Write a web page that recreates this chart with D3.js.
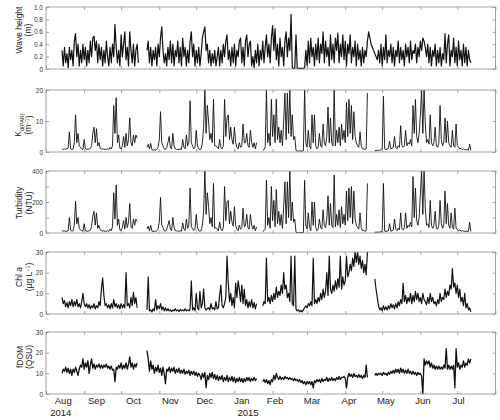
<!DOCTYPE html>
<html>
<head>
<meta charset="utf-8">
<script src="https://cdn.jsdelivr.net/npm/d3@7"></script>
<style>
  body { margin: 0; background: #fff; }
  svg { font-family: "Liberation Sans", Arial, Helvetica, sans-serif; }
</style>
</head>
<body>
<svg id="chart" width="500" height="420"></svg>
<script>
// daily values, first value is 14 Aug 2014, null = no data
const firstDay = "2014-08-14";

const waveHeight = [
  0.3,0.05,0.35,0.1,0.25,0.02,0.35,0.15,0.3,0.05,
  0.45,0.57,0.2,0.4,0.05,0.3,0.1,0.4,0.15,0.35,
  0.05,0.3,0.1,0.45,0.2,0.5,0.53,0.3,0.45,0.1,
  0.4,0.15,0.35,0.05,0.3,0.1,0.45,0.2,0.05,0.35,
  0.1,0.4,0.2,0.72,0.35,0.1,0.3,0.05,0.55,0.2,
  0.4,0.6,0.15,0.35,0.05,0.6,0.3,0.1,0.4,0.05,
  0.3,0.4,0.1,null,null,null,null,null,null,0.3,
  0.45,0.1,0.35,0.05,0.3,0.15,0.35,0.05,0.4,0.2,
  0.5,0.68,0.3,0.1,0.25,0.05,0.35,0.15,0.45,0.1,
  0.4,0.05,0.3,0.2,0.45,0.1,0.35,0.05,0.5,0.2,
  0.35,0.05,0.3,0.1,0.45,0.6,0.2,0.4,0.05,0.3,
  0.1,0.35,0.05,0.25,0.5,0.6,0.68,0.3,0.4,0.1,
  0.3,0.05,0.25,0.1,0.3,0.05,0.2,0.35,0.05,0.3,
  0.1,0.4,0.2,0.45,0.55,0.15,0.3,0.05,0.35,0.1,
  0.4,0.05,0.3,0.2,0.45,0.5,0.1,0.35,0.05,0.45,
  0.55,0.2,0.4,0.45,0.05,0.2,0.02,0.3,0.1,0.4,
  0.05,0.3,0.15,0.45,0.1,0.35,0.55,0.2,0.4,0.1,
  0.5,0.7,0.3,0.65,0.15,0.4,0.05,0.5,0.2,0.35,
  0.05,0.45,0.6,0.2,0.5,0.3,0.88,0.02,0.01,0.01,
  0.55,0.01,0.01,0.01,0.01,0.01,0.01,0.02,0.3,0.05,
  0.45,0.1,0.5,0.2,0.35,0.05,0.4,0.15,0.5,0.1,
  0.4,0.25,0.6,0.1,0.45,0.2,0.35,0.05,0.55,0.15,
  0.4,0.1,0.5,0.3,0.58,0.1,0.4,0.2,0.55,0.15,
  0.45,0.05,0.4,0.25,0.55,0.1,0.35,0.2,0.45,0.05,
  0.4,0.15,0.3,0.05,0.35,0.1,0.3,0.2,0.45,0.6,
  0.5,0.4,0.35,0.3,0.25,0.2,0.15,0.3,0.1,0.4,
  0.05,0.35,0.15,0.55,0.1,0.3,0.2,0.4,0.1,0.35,
  0.05,0.3,0.2,0.45,0.1,0.35,0.15,0.3,0.05,0.4,
  0.2,0.35,0.1,0.45,0.15,0.3,0.25,0.4,0.1,0.35,
  0.2,0.45,0.3,0.5,0.45,0.35,0.2,0.4,0.1,0.35,
  0.05,0.3,0.2,0.4,0.05,0.3,0.1,0.35,0.05,0.25,
  0.15,0.57,0.1,0.4,0.55,0.05,0.3,0.2,0.5,0.1,
  0.35,0.05,0.45,0.15,0.3,0.05,0.4,0.1,0.35,0.05,
  0.3,0.15,0.1
];

const kdPar = [
  1,0.8,1,0.9,1.1,1.2,6.5,1,0.8,1,
  3,12,3,6,2,1.5,1,0.8,4,1,
  0.9,0.8,1,1.2,2,6,8,3,7.5,2,
  3,1.2,1,0.9,1,0.8,0.9,1,0.8,1.5,
  1,2,15,6,17.5,3,5.5,1.2,1,2,
  5,1.5,6,2,4,11,3,2,5.5,3,
  5.5,4.5,null,null,null,null,null,null,null,1.5,
  2.5,1,2.8,0.8,0.6,0.7,0.6,0.8,1.5,4,
  13,3,2,1,0.8,1.5,3,5,1.5,1,
  6,2,1,0.8,0.9,0.7,1,0.8,4,1.5,
  1,5.5,2,3,16.5,3,2,1,1.5,7,
  2,1,0.8,1,3,8,20,6,15,10,
  4,6,3,17,2,2,1.5,1,4,1.5,
  1,2,17,5,11,12,4,8,4,2.5,
  8,3,1.5,1,3,1.5,2,9,3,3,
  6,2,1.5,7,3,1.5,3,1,3,null,
  null,null,null,0.6,0.8,1.5,20,3,6,2,
  17,5,12,3,17,4,8,3,7,2,
  10,19,4,19,6,20,5,12,4,5,
  0.5,0.3,0.3,0.4,0.3,0.3,0.4,20,3,1.5,
  7,2,1,12,3,12,2,1,1.5,6,
  2,1.5,9,3,2,5,14.5,3,11,3,
  2,20,2,7,3,8,2,9,4,7,
  3,16,5,17,6,15,4,13,5,3,
  2,1.5,6.5,2,1,1,0.8,1,19,null,
  null,null,null,null,0.5,0.4,0.5,0.6,0.5,0.8,
  1,18,1,0.8,1,1.2,3.5,1,1.2,1.5,
  5,1.5,1,2,1.5,8.5,2,1.5,2,7,
  2,3,2.5,4,2,15,6,17,5,3,
  6,12,20,6,20,9,3,4,2.5,12,
  3,2,3,8,2,1.5,3,15,4,2,
  3,11,3,10,3,2,1.5,7,2,1.5,
  9,2,1.5,1,1.2,0.8,1,0.8,0.7,0.8,
  0.6,2.5,0.6
];

const turbidity = [
  15,12,14,10,12,15,100,18,12,15,
  50,205,60,100,30,20,15,12,60,15,
  12,10,15,20,40,110,140,50,130,30,
  50,20,15,12,15,10,12,15,10,25,
  15,40,260,90,310,50,90,20,15,35,
  80,25,100,35,70,190,40,30,90,50,
  90,75,null,null,null,null,null,null,null,25,
  45,15,50,12,10,12,10,15,25,70,
  230,50,35,15,12,25,50,80,25,15,
  100,35,15,12,15,10,15,12,65,25,
  15,90,30,50,290,40,30,15,25,120,
  35,15,12,15,50,140,400,120,260,170,
  60,100,40,320,30,35,25,15,70,25,
  15,35,300,80,200,210,60,140,70,45,
  170,50,25,15,50,25,35,160,40,50,
  120,35,25,120,50,25,50,15,40,null,
  null,null,null,10,15,25,340,50,100,30,
  300,80,210,40,280,60,140,50,120,30,
  170,330,60,330,100,400,80,200,70,90,
  5,3,3,4,3,3,4,340,50,25,
  130,35,15,200,50,200,35,15,25,90,
  35,25,150,50,35,90,240,50,190,50,
  35,374,40,120,50,150,35,170,60,120,
  50,270,80,290,100,300,60,270,90,50,
  35,25,130,35,15,15,12,15,320,null,
  null,null,null,null,5,5,6,5,6,8,
  10,320,12,10,12,15,60,12,15,20,
  90,25,15,30,20,130,30,20,35,130,
  30,50,40,70,40,363,100,290,80,50,
  100,250,400,120,400,160,50,60,35,210,
  50,30,50,140,30,25,50,210,60,30,
  50,270,60,190,50,30,130,35,25,160,
  30,25,15,20,12,15,12,10,12,10,
  10,70,10
];

const chlA = [
  8,5,6.5,3.5,5.5,3,6,4,7,3.5,
  6,4,7,3.5,5,3,6,10,5,3.5,
  5,3,4.5,2.5,4,3,5,2.5,4,3,
  6,4,12,17.5,9,4,5,3,4.5,2.5,
  5,3,7,3.5,5,3,4.5,2.5,5,3,
  4.5,3,20,4,5,3,8,4,10.5,5,
  8,3,null,null,null,null,null,null,null,2,
  18,1.5,2,1,2.5,1.5,7,2,4,2.5,
  5,2,3.5,1.5,3,1.5,2.5,1.5,2,1.2,
  2,1.5,2.5,1.5,2,1.2,2.2,1.5,2,1.5,
  2.5,1.5,2,1.5,2.5,16,2,3,1.5,10,
  3,2,11,3,5,12,3,2,2.5,3,
  2,5,2.5,3,2,6,2.5,3,9,14,
  4,3,5,8,28,15,6,10,4,8,
  3,15,8,16,12,6,14,5,12,4,
  7,3,6,3.5,7,3,5.5,2.5,5,null,
  null,null,null,4,6,5,27,6,8,5,
  9,6,10,7,13,8,11,9,14,10,
  20,12,14,8,10,6,28,5,4,28,
  2.5,1.5,2,1,1.8,1,2,3,4,3,
  5,4,6,4,27,5,7,5,8,6,
  10,7,12,8,11,20,9,28,12,10,
  14,11,16,12,17,13,28,12,18,14,
  16,28,18,20,24,21,27,23,30,25,
  30,24,28,22,26,20,24,19,30,null,
  null,null,null,null,17,12,8,4,2,3,
  1.5,4,2,3.5,2,4,2.5,5,3,4.5,
  2.5,5,3,6,4,7,5,15,6,9,
  5,8,6,10,5,9,6,11,7,10,
  6,8,5,10,7,6,4.5,8,5,10,
  6,8,5,6,4,7,5,10,6,8,
  7,12,8,11,9,14,12,22,13,15,
  10,14,8,12,6,8,4,10,3,5,
  2,3,1
];

const fdom = [
  10,12,11,13,10.5,12.5,10,12,9,12,
  10.5,13,11,9,12,14,13,17,12,15,
  13,16,10,14,17,12.5,14.5,12,14,13,
  14.5,12.5,14,12.5,14,13,14.5,12.5,13.5,12,
  13.5,11.5,12,6,13,12,14,12.5,15,12,
  14,12.5,15,12,14.5,18,13,15,12,14.5,
  13,15,null,null,null,null,null,null,null,21,
  17,11,16,12,14,10,13,11,14,10.5,
  12.5,9,13,10,5,12,11,13,10.5,12.5,
  11,13,10,12,10.5,12.5,10,11.5,10,12,
  9.5,11,10,11.5,9,11,9.5,11,9,10.5,
  8.5,10,9,7,10,8,10.5,3,9,7,
  10,8,10.5,7.5,9.5,7,9,6.5,8.5,7,
  9,6,8,6.5,9,6,8,6.5,8.5,6,
  8,5.5,7.5,6,8,6,7.5,5.5,7.5,6,
  8,6.5,8,6,7.5,6.5,8,6.5,7.5,null,
  null,null,null,6,7,5.5,7,5,6.5,4.5,
  7,6,9,7,10,8,7,8.5,7,8,
  7,8.5,7.5,8,7,8,7,7.5,6.5,7.5,
  6.5,7,6,7,5.5,6.5,5,6,4.5,6,
  5,6,4.5,6,3,6.5,5.5,7,6,7,
  5.5,7.5,6,7,6.5,8,6,7.5,6.5,8,
  6.5,7.5,6.5,8,7,8.5,7,8,8,8.5,
  7.5,3,8,10,8.5,9.5,8,10,8.5,9,
  8,9.5,8,9,7.5,9,8,14,8,null,
  null,null,null,null,9,10,9,10,9.5,10,
  9,10.5,9.5,10,9,10.5,9.5,11,10,11.5,
  10,12,10.5,12,10,12.5,10.5,12,10,11.5,
  10,12,10,11,9.5,11,9.5,10.5,9,10.5,
  9.5,10,8.5,0,17,14,16,14.5,16,13,
  15,12.5,14,12,13.5,12,13.5,12,13,12,
  14,12.5,22,12,14,12,13.5,12,14,3,
  22,13,15,12,14,13,16,13,15,14,
  17,15,17
];

const monthNames = ["Aug","Sep","Oct","Nov","Dec","Jan","Feb","Mar","Apr","May","Jun","Jul"];
const monthLabelDates = ["2014-08-15","2014-09-11","2014-10-11","2014-11-10","2014-12-08","2015-01-07",
                         "2015-02-03","2015-03-05","2015-04-04","2015-05-04","2015-06-03","2015-07-02"];
const yearNames = ["2014","2015"];
const yearLabelDates = ["2014-08-13","2015-01-12"];

const parse = d3.timeParse("%Y-%m-%d");
const start = parse(firstDay);
const toSeries = vals => vals.map((v, i) => ({ date: d3.timeDay.offset(start, i), v: v }));

const svg = d3.select("#chart");
const left = 46, right = 495.5, panelH = 62;

const x = d3.scaleTime()
    .domain([parse("2014-08-01"), parse("2015-08-01")])
    .range([left, right]);
const monthTicks = d3.timeMonth.range(parse("2014-08-01"), parse("2015-08-02"));

const panels = [
  { values: waveHeight, top: 7, max: 1, ticks: [0, 0.2, 0.4, 0.6, 0.8, 1], sw: 1.2,
    fmt: d => d === 0 ? "0" : d.toFixed(1), title: [19.5, 28, 30] },
  { values: kdPar, top: 90, max: 20, ticks: [0, 10, 20], sw: 0.9, fmt: d => d, title: [18.5, 28.5, 125] },
  { values: turbidity, top: 171, max: 400, ticks: [0, 100, 200, 300, 400], sw: 0.9,
    fmt: d => d % 200 === 0 ? d : "", title: [19.5, 29, 203] },
  { values: chlA, top: 252, max: 30, ticks: [0, 10, 20, 30], sw: 1.2, fmt: d => d, title: [19.5, 29, 277] },
  { values: fdom, top: 332, max: 30, ticks: [0, 10, 20, 30], sw: 1.3, fmt: d => d, title: [20, 29.5, 357] }
];

panels.forEach((p, i) => {
  const y = d3.scaleLinear().domain([0, p.max]).range([p.top + panelH, p.top]);
  const g = svg.append("g");

  g.append("clipPath").attr("id", "clip" + i)
    .append("rect").attr("x", left).attr("y", p.top).attr("width", right - left).attr("height", panelH);

  const line = d3.line()
    .defined(d => d.v != null)
    .x(d => x(d.date))
    .y(d => y(d.v));

  g.append("path")
    .datum(toSeries(p.values))
    .attr("clip-path", `url(#clip${i})`)
    .attr("fill", "none")
    .attr("stroke", "#111")
    .attr("stroke-width", p.sw)
    .attr("stroke-linejoin", "round")
    .attr("d", line);

  // axes, ticks pointing inwards
  g.append("g").attr("class", "ax")
    .attr("transform", `translate(${left},0)`)
    .call(d3.axisLeft(y).tickValues(p.ticks).tickSize(-3).tickPadding(3).tickFormat(p.fmt));
  g.append("g").attr("class", "ax")
    .attr("transform", `translate(${right},0)`)
    .call(d3.axisRight(y).tickValues(p.ticks).tickSize(-3).tickFormat(""));
  g.append("g").attr("class", "ax")
    .attr("transform", `translate(0,${p.top})`)
    .call(d3.axisTop(x).tickValues(monthTicks).tickSize(-3).tickFormat(""));
  g.append("g").attr("class", "ax")
    .attr("transform", `translate(0,${p.top + panelH})`)
    .call(d3.axisBottom(x).tickValues(monthTicks).tickSize(-3).tickFormat(""));

  g.append("rect")
    .attr("x", left).attr("y", p.top)
    .attr("width", right - left).attr("height", panelH)
    .attr("fill", "none").attr("stroke", "#8c8c8c").attr("stroke-width", 0.8);
});

svg.selectAll(".ax .domain").remove();
svg.selectAll(".ax line").attr("stroke", "#8c8c8c").attr("stroke-width", 0.8);
svg.selectAll(".ax text").attr("font-size", 6.5).attr("fill", "#333")
  .attr("font-family", "'Liberation Sans', Arial, sans-serif");

// axis titles (two rotated lines each)
function title(cx, cy) {
  return svg.append("text")
    .attr("transform", `translate(${cx},${cy}) rotate(-90)`)
    .attr("text-anchor", "middle")
    .attr("dy", "0.35em")
    .attr("font-size", 8.5)
    .attr("fill", "#222");
}
const T = panels.map(p => p.title);

title(T[0][0], T[0][2]).text("Wave height");
title(T[0][1], T[0][2]).text("(m)");

const kd = title(T[1][0], T[1][2]);
kd.append("tspan").text("K");
kd.append("tspan").attr("font-size", 5.5).attr("dy", "0.4em").text("d(PAR)");
const kdU = title(T[1][1], T[1][2]);
kdU.append("tspan").text("(m");
kdU.append("tspan").attr("font-size", 5.5).attr("dy", "-0.45em").text("−1");
kdU.append("tspan").attr("dy", "0.3em").text(")");

title(T[2][0], T[2][2]).text("Turbidity");
title(T[2][1], T[2][2]).text("(NTU)");

const chl = title(T[3][0], T[3][2]);
chl.append("tspan").text("Chl ");
chl.append("tspan").attr("font-style", "italic").text("a");
const chlU = title(T[3][1], T[3][2]);
chlU.append("tspan").text("(µg L");
chlU.append("tspan").attr("font-size", 5.5).attr("dy", "-0.45em").text("−1");
chlU.append("tspan").attr("dy", "0.3em").text(")");

title(T[4][0], T[4][2]).text("fDOM");
title(T[4][1], T[4][2]).text("(QSU)");

// month and year labels under the last panel
svg.append("g").selectAll("text")
  .data(monthNames)
  .join("text")
  .attr("x", (d, i) => x(parse(monthLabelDates[i])))
  .attr("y", 404)
  .attr("text-anchor", "middle")
  .attr("font-size", 9.5)
  .attr("fill", "#222")
  .text(d => d);

svg.append("g").selectAll("text")
  .data(yearNames)
  .join("text")
  .attr("x", (d, i) => x(parse(yearLabelDates[i])))
  .attr("y", 416)
  .attr("text-anchor", "middle")
  .attr("font-size", 9.5)
  .attr("fill", "#222")
  .text(d => d);
</script>
</body>
</html>
